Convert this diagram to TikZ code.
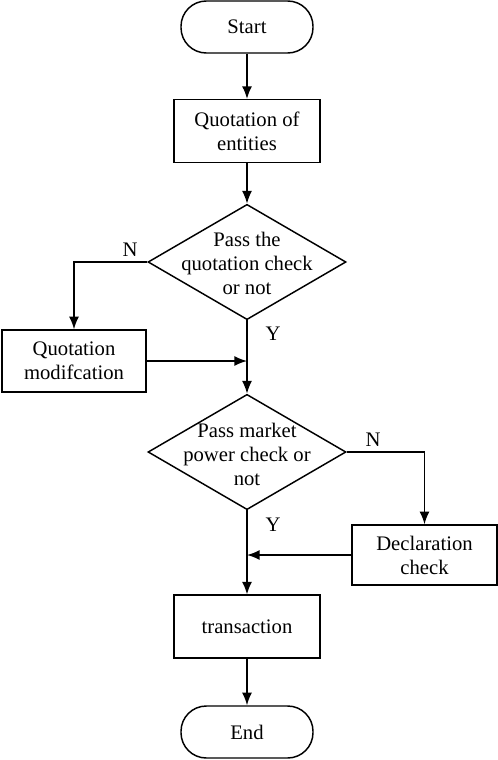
\documentclass[tikz,border=0pt]{standalone}
\usepackage{fontspec}
\setmainfont{Liberation Serif}
\usetikzlibrary{arrows.meta,shapes.geometric}
\begin{document}
\begin{tikzpicture}[x=0.75pt,y=0.75pt,yscale=-1,xscale=1,
            line width=1.1pt,
            every node/.style={font=\fontsize{15.5}{18}\selectfont},
            terminal/.style={draw, rectangle, rounded corners=19pt, minimum width=99pt, minimum height=39pt},
            procbox/.style={draw, rectangle, align=center, minimum width=109.5pt, minimum height=47pt},
            decision/.style={draw, diamond, minimum width=148.5pt, minimum height=86.5pt, inner sep=0pt},
            flow/.style={-{Latex[length=9.5pt,width=7.5pt]}}]
            \useasboundingbox (0, 0) rectangle (498, 760);
            %main column
            \node[terminal] (start) at (247, 27) {Start};
            \node[procbox] (quote) at (247, 131) {Quotation of\\entities};
            \node[decision] (chkA) at (247, 262) {};
            \node[align=center] (chkAtxt) at (247, 263) {Pass the\\quotation check\\or not};
            \node[decision] (chkB) at (247, 452) {};
            \node[align=center] (chkBtxt) at (247, 454) {Pass market\\power check or\\not};
            \node[procbox] (trans) at (247, 626.5) {transaction};
            \node[terminal] (stop) at (247, 732) {End};
            %side boxes
            \node[procbox, minimum width=108pt, minimum height=46.5pt] (modif) at (74, 361) {Quotation\\modifcation};
            \node[procbox, minimum width=108.75pt, minimum height=45pt] (decl) at (424.5, 555) {Declaration\\check};
            %branch labels
            \node (noA) at (130, 250) {N};
            \node (yesA) at (273, 334) {Y};
            \node (noB) at (373, 440) {N};
            \node (yesB) at (273, 525) {Y};
            %connectors
            \draw[flow] (start) -- (quote);
            \draw[flow] (quote) -- (chkA);
            \draw[flow] (chkA.west) -| (modif.north);
            \draw[flow] (chkA.south) -- (chkB.north);
            \coordinate (joinA) at (modif.east -| chkA.south);
            \draw[flow] (modif.east) -- (joinA);
            \draw[flow] (chkB.east) -| (decl.north);
            \draw[flow] (chkB.south) -- (trans.north);
            \coordinate (joinB) at (decl.west -| chkB.south);
            \draw[flow] (decl.west) -- (joinB);
            \draw[flow] (trans) -- (stop);
        \end{tikzpicture}
\end{document}
